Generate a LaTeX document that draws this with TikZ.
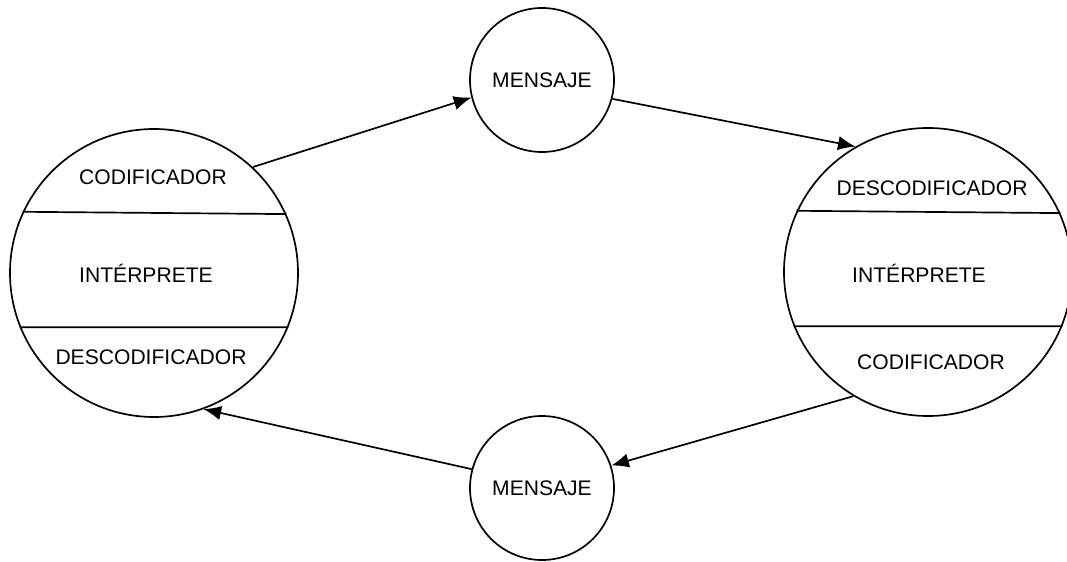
\documentclass[tikz,border=0pt]{standalone}
\usepackage{fontspec}
\setmainfont{Liberation Sans}
\usetikzlibrary{arrows.meta,positioning}
\definecolor{cmink}{HTML}{000000}
\tikzset{
  agent/.style={circle,draw=cmink,line width=1.2pt,minimum size=7.2cm,inner sep=0pt},
  msg/.style={circle,draw=cmink,line width=1.2pt,minimum size=3.6cm,inner sep=0pt,font=\fontsize{15}{17}\selectfont},
  part/.style={font=\fontsize{15}{17}\selectfont,text=cmink,inner sep=0pt},
  divider/.style={draw=cmink,line width=1.2pt},
  flow/.style={-{Latex[length=4.4mm,width=3.6mm]},draw=cmink,line width=1.2pt},
}
\begin{document}
\begin{tikzpicture}
  \useasboundingbox (0,0) rectangle (26.675,14.025);
  \node[agent] (sender) at (3.85,7.2) {};
  \node[agent] (receiver) at (23.2,7.225) {};
  \node[msg] (msgtop) at (13.55,12.025) {MENSAJE};
  \node[msg] (msgbot) at (13.55,1.825) {MENSAJE};
  % layers of each agent
  \draw[divider] (sender.155.4) -- (sender.24.6) (sender.202.9) -- (sender.-22.9);
  \draw[divider] (receiver.155.8) -- (receiver.24.2) (receiver.202.6) -- (receiver.-22.6);
  \node[part] (encA) at (3.825,9.6) {CODIFICADOR};
  \node[part] (intA) at (3.65,7.2) {INTÉRPRETE};
  \node[part] (decA) at (3.775,5.1) {DESCODIFICADOR};
  \node[part] (decB) at (23.3,9.325) {DESCODIFICADOR};
  \node[part] (intB) at (22.975,7.2) {INTÉRPRETE};
  \node[part] (encB) at (23.275,4.975) {CODIFICADOR};
  % message flow
  \draw[flow] (sender.47) -- (msgtop.194.6);
  \draw[flow] (msgtop.345) -- (receiver.120.6);
  \draw[flow] (receiver.239.6) -- (msgbot.18.9);
  \draw[flow] (msgbot.165.6) -- (sender.290);
\end{tikzpicture}
\end{document}
